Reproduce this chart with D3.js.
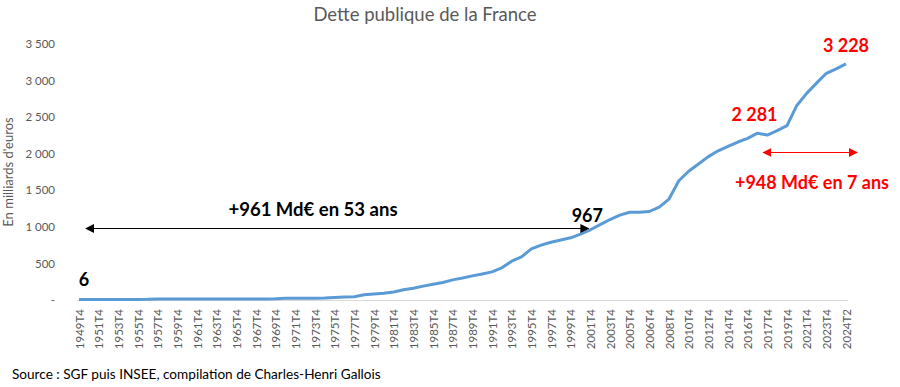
<!DOCTYPE html>
<html>
<head>
<meta charset="utf-8">
<script src="https://cdn.jsdelivr.net/npm/d3@7"></script>
<style>
  body { margin: 0; background: #fff; }
  svg { display: block; font-family: Lato, "Open Sans", sans-serif; }
</style>
</head>
<body>
<svg id="chart" width="900" height="387"></svg>
<script>
// categories (one per point; only every other one gets a label)
var categories = [];
var year;
for (year = 1949; year <= 2005; ++year) {
    categories.push(year + "T4");
}
categories = categories.concat([
    "2006T2", "2006T4", "2007T4", "2008T4", "2009T4", "2010T4", "2011T4",
    "2012T4", "2013T4", "2014T4", "2015T4", "2016T4", "2017T2", "2017T4",
    "2018T4", "2019T4", "2020T4", "2021T4", "2022T4", "2023T4", "2024T1", "2024T2"
]);

// dette publique, milliards d'euros
var dette = [
    6, 6, 6, 6, 7, 7, 8, 9, 14, 15,
    15, 15, 15, 15, 15, 15, 15, 15, 15, 15,
    16, 24, 25, 25, 25, 26, 33, 42, 45, 72,
    82, 92, 110, 140, 160, 190, 215, 240, 275, 300,
    330, 355, 385, 440, 530, 590, 700, 750, 790, 820,
    850, 900, 960, 1030, 1100, 1160, 1200, 1200, 1210, 1270,
    1380, 1630, 1760, 1860, 1960, 2040, 2100, 2160, 2210, 2281,
    2255, 2315, 2385, 2660, 2825, 2965, 3100, 3160, 3228
];

var yTicks = [0, 500, 1000, 1500, 2000, 2500, 3000, 3500];

var svg = d3.select("#chart");

var x = d3.scalePoint()
    .domain(categories)
    .range([79, 846]);

var y = d3.scaleLinear()
    .domain([0, 3500])
    .range([300, 44]);

var grey = "#595959";

// title
svg.append("text")
    .attr("x", 425)
    .attr("y", 21)
    .attr("text-anchor", "middle")
    .attr("fill", grey)
    .style("font-size", "18.5px")
    .text("Dette publique de la France");

// y axis labels (no line)
var yAxis = svg.append("g")
    .attr("transform", "translate(55,0)")
    .call(d3.axisLeft(y)
        .tickValues(yTicks)
        .tickSize(0)
        .tickPadding(0)
        .tickFormat(function (d) {
            return d === 0 ? "-" : d3.format(",")(d).replace(",", " ");
        }));
yAxis.select(".domain").remove();
yAxis.selectAll("text")
    .attr("fill", grey)
    .style("font-size", "11.5px")
    .style("font-family", "Lato, sans-serif");

svg.append("text")
    .attr("transform", "translate(13,172) rotate(-90)")
    .attr("text-anchor", "middle")
    .attr("fill", grey)
    .style("font-size", "13px")
    .text("En milliards d'euros");

// x axis
var xAxis = svg.append("g")
    .attr("transform", "translate(0,300)")
    .call(d3.axisBottom(x)
        .tickValues(categories.filter(function (d, i) { return i % 2 === 0; }))
        .tickSize(0)
        .tickSizeOuter(0));
xAxis.select(".domain")
    .attr("stroke", "#d9d9d9")
    .attr("d", "M77,0.5H848");
xAxis.selectAll("text")
    .attr("fill", grey)
    .style("font-size", "11.5px")
    .style("font-family", "Lato, sans-serif")
    .attr("text-anchor", "end")
    .attr("x", -9)
    .attr("y", 0)
    .attr("dy", "0.35em")
    .attr("transform", "rotate(-90)");

// the series
var line = d3.line()
    .x(function (d, i) { return x(categories[i]); })
    .y(function (d) { return y(d); });

svg.append("path")
    .datum(dette)
    .attr("fill", "none")
    .attr("stroke", "#5b9bd5")
    .attr("stroke-width", 3)
    .attr("stroke-linejoin", "round")
    .attr("d", line);

// arrow heads
var defs = svg.append("defs");
[["blk", "#000"], ["red", "#ff0000"]].forEach(function (m) {
    defs.append("marker")
        .attr("id", "arr-" + m[0])
        .attr("viewBox", "0 0 10 10")
        .attr("refX", 9)
        .attr("refY", 5)
        .attr("markerWidth", 9)
        .attr("markerHeight", 9)
        .attr("markerUnits", "userSpaceOnUse")
        .attr("orient", "auto-start-reverse")
        .append("path")
        .attr("d", "M0,0L10,5L0,10Z")
        .attr("fill", m[1]);
});

// black annotation : +961 Md€ en 53 ans
var yA = Math.round(y(985)) + 0.5;
svg.append("line")
    .attr("x1", x("1949T4") + 7)
    .attr("x2", x("2000T4") + 8)
    .attr("y1", yA)
    .attr("y2", yA)
    .attr("stroke", "#000")
    .attr("stroke-width", 1)
    .attr("marker-start", "url(#arr-blk)")
    .attr("marker-end", "url(#arr-blk)");

var bold = function (sel, size, color) {
    return sel.attr("fill", color)
        .attr("text-anchor", "middle")
        .style("font-weight", "bold")
        .style("font-size", size + "px");
};

bold(svg.append("text"), 18.5, "#000")
    .attr("x", 313).attr("y", 216)
    .text("+961 Md€ en 53 ans");

bold(svg.append("text"), 18, "#000")
    .attr("x", x("1949T4") + 5).attr("y", y(dette[0]) - 14)
    .text("6");

bold(svg.append("text"), 18, "#000")
    .attr("x", x("2001T4") - 3).attr("y", 222)
    .text("967");

// red annotation : +948 Md€ en 7 ans
var yB = Math.round(y(2023)) + 0.5;
svg.append("line")
    .attr("x1", x("2017T4") - 4)
    .attr("x2", x("2024T2") + 11)
    .attr("y1", yB)
    .attr("y2", yB)
    .attr("stroke", "#ff0000")
    .attr("stroke-width", 1)
    .attr("marker-start", "url(#arr-red)")
    .attr("marker-end", "url(#arr-red)");

bold(svg.append("text"), 18, "#ff0000")
    .attr("x", x("2017T2") - 3).attr("y", y(2281) - 12)
    .text("2 281");

bold(svg.append("text"), 18, "#ff0000")
    .attr("x", x("2024T2")).attr("y", y(3228) - 12)
    .text("3 228");

bold(svg.append("text"), 18, "#ff0000")
    .attr("x", 812).attr("y", 189)
    .text("+948 Md€ en 7 ans");

// source
svg.append("text")
    .attr("x", 12)
    .attr("y", 379)
    .attr("fill", "#000")
    .style("font-size", "13.6px")
    .text("Source : SGF puis INSEE, compilation de Charles-Henri Gallois");
</script>
</body>
</html>
